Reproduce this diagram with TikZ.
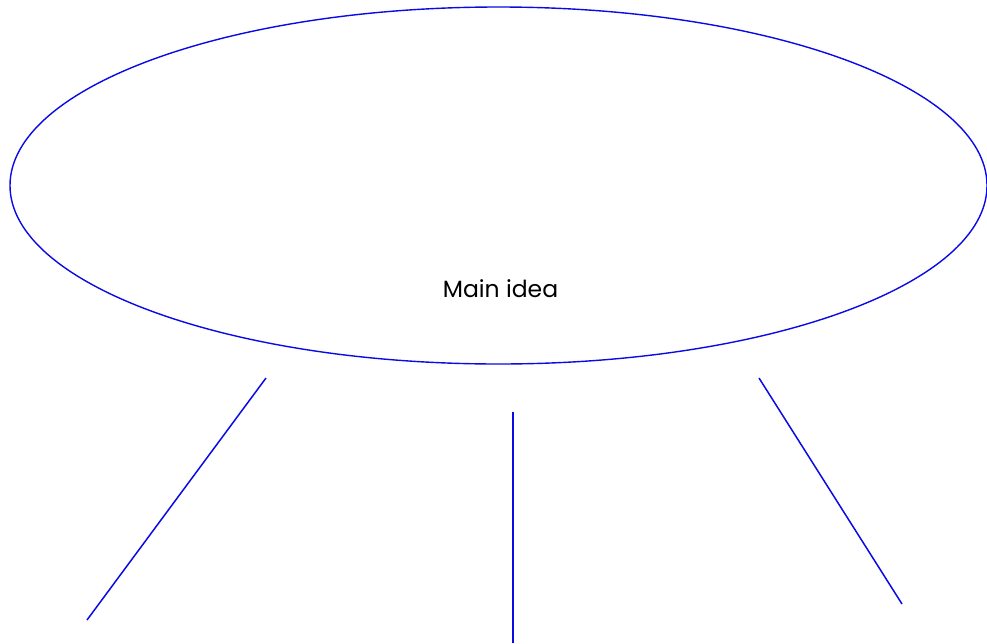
\documentclass[tikz,border=0pt]{standalone}
\usepackage{fontspec}
\setmainfont{Poppins}
\usetikzlibrary{shapes.geometric}
\definecolor{lineblue}{RGB}{10,10,230}
\begin{document}
\begin{tikzpicture}[x=1pt,y=-1pt,
  outline/.style={draw=lineblue,line width=1.4pt},
  spoke/.style={draw=lineblue,line width=1.5pt}]
\useasboundingbox (0,0) rectangle (987,643);
\begin{scope}
\clip (0,0) rectangle (987,643);
\node[outline,ellipse,minimum width=977pt,minimum height=357pt,inner sep=0pt] (main) at (498.5,185.5) {};
\end{scope}
\node[font=\fontsize{23.5}{28}\selectfont,inner sep=0pt] (lbl) at (500.5,289) {Main idea};
\coordinate (a1) at (266,378);
\coordinate (a2) at (87,620);
\coordinate (b1) at (513,412);
\coordinate (b2) at (513,643);
\coordinate (c1) at (759,378);
\coordinate (c2) at (902,604);
\draw[spoke] (a1) -- (a2);
\draw[spoke] (b1) -- (b2);
\draw[spoke] (c1) -- (c2);
\end{tikzpicture}
\end{document}
